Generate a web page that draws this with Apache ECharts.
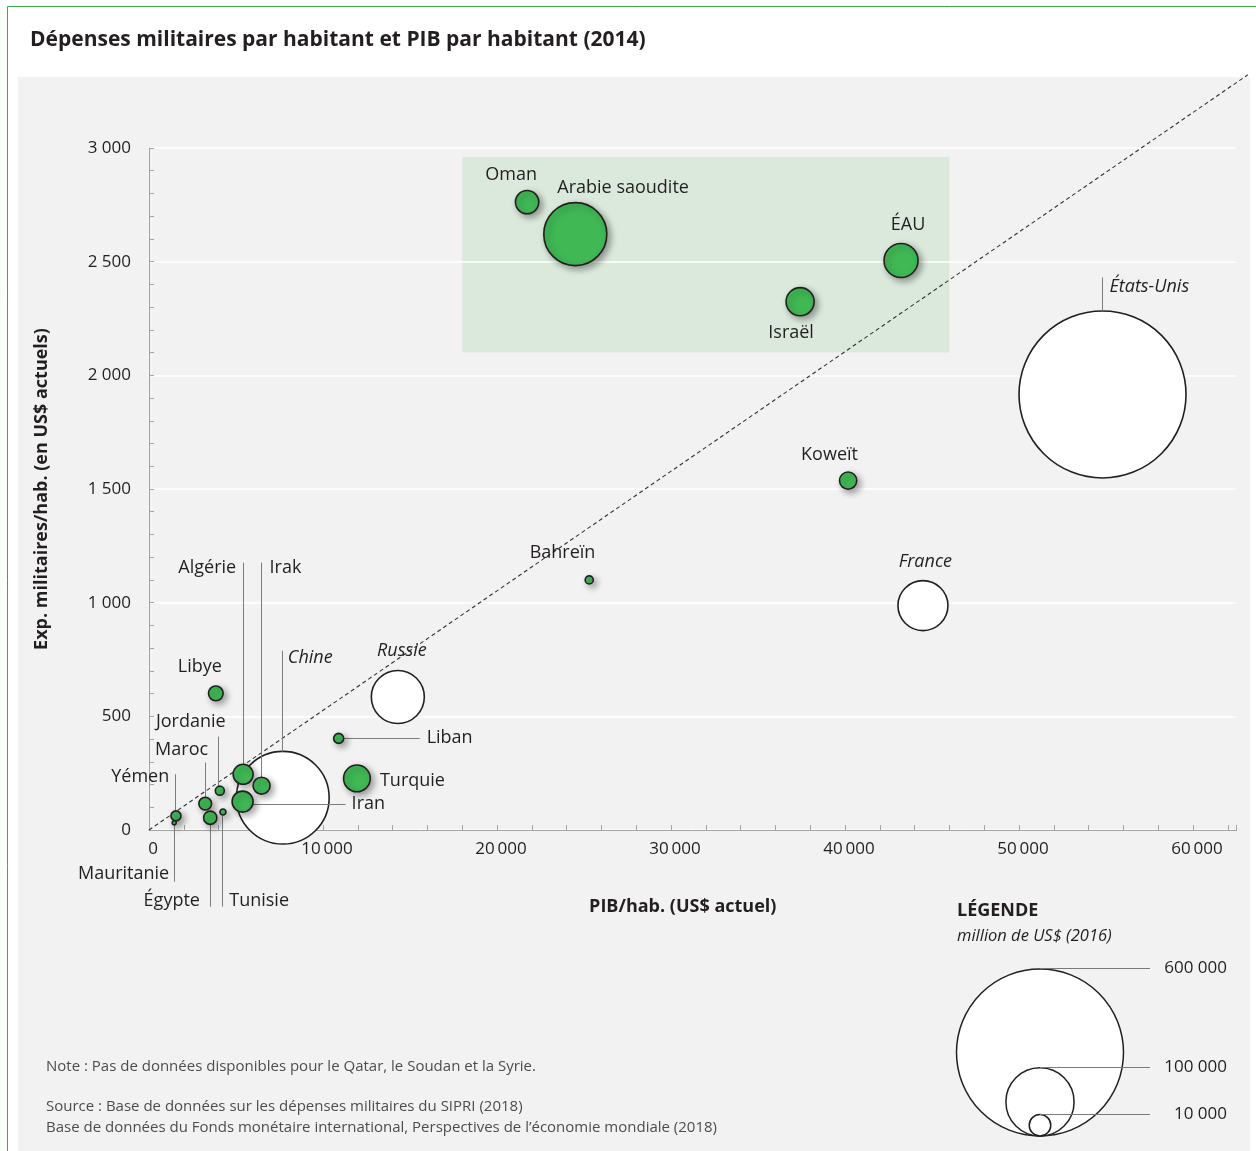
<!DOCTYPE html>
<html><head><meta charset="utf-8">
<script src="https://cdn.jsdelivr.net/npm/echarts@6/dist/echarts.min.js"></script>
<style>html,body{margin:0;padding:0;background:#fff}#c{width:1256px;height:1151px}</style>
</head><body><div id="c"></div>
<script>
// ---- DATA ----
const greenNames  = ['Oman','Arabie saoudite','ÉAU','Israël','Koweït','Bahreïn','Liban','Turquie','Libye','Algérie','Irak','Iran','Jordanie','Maroc','Égypte','Tunisie','Yémen','Mauritanie'];
const greenGdp    = [21730, 24500, 43220, 37420, 40180, 25300, 10900, 11950, 3840, 5410, 6470, 5380, 4070, 3230, 3520, 4250, 1550, 1450];
const greenMil    = [2762, 2621, 2505, 2324, 1537, 1100, 403, 227, 601, 245, 195, 125, 173, 116, 54, 79, 62, 32];
const greenBudget = [11700, 85400, 24900, 16900, 6400, 1400, 2150, 15300, 4650, 8600, 6200, 9500, 1740, 3470, 3800, 775, 2150, 350];

const whiteNames  = ['États-Unis','France','Russie','Chine'];
const whiteGdp    = [54800, 44480, 14300, 7690];
const whiteMil    = [1916, 987, 585, 142];
const whiteBudget = [600000, 53800, 60400, 184900];

const xTicks = [0, 10000, 20000, 30000, 40000, 50000, 60000];
const yTicks = [0, 500, 1000, 1500, 2000, 2500, 3000];
const legendValues = [600000, 100000, 10000];
const refLine = [0, 0, 63150, 3322];          // x0, y0, x1, y1
const gulfBox = [18000, 2100, 46000, 2960];   // xMin, yMin, xMax, yMax

// ---- STYLE / LAYOUT ----
const FONT = '"Open Sans", "Noto Sans", sans-serif';
const INK = '#231f20';
const sizeScale = v => 0.2156 * Math.sqrt(v);
const fmtThin = v => String(v).replace(/\B(?=(\d{3})+(?!\d))/g, '\u2009');
const fmtSpace = v => String(v).replace(/\B(?=(\d{3})+(?!\d))/g, ' ');
const crisp = v => Math.round(v - 0.5) + 0.5;

const labelLayout = {
  'Oman': {dx:-16, dy:-27, align:'center'},
  'Arabie saoudite': {dx:-18, dy:-46, align:'left'},
  'ÉAU': {dx:7, dy:-36, align:'center'},
  'Israël': {dx:-9, dy:31, align:'center'},
  'Koweït': {dx:-18.6, dy:-25.7, align:'center'},
  'Bahreïn': {dx:-26.7, dy:-26.7, align:'center'},
  'Liban': {dx:88, dy:-1, align:'left', line:[5,0,81,0]},
  'Turquie': {dx:23, dy:2, align:'left'},
  'Iran': {dx:109, dy:2, align:'left', line:[10,3,103,3]},
  'Libye': {dx:-16, dy:-26, align:'center'},
  'Algérie': {dx:-7, dy:-206, align:'right', line:[0,-211.6,0,-10]},
  'Irak': {dx:8, dy:-218, align:'left', line:[0,-223,0,-8.5]},
  'Jordanie': {dx:-29, dy:-69, align:'center', line:[-1,-54,-1,-4.5]},
  'Maroc': {dx:-23.6, dy:-53.7, align:'center', line:[0,-41,0,-6.3]},
  'Yémen': {dx:-6.7, dy:-38.7, align:'right', line:[0,-41.7,0,-5]},
  'Mauritanie': {dx:-5, dy:51.6, align:'right', line:[0.7,2,0.7,59]},
  'Égypte': {dx:-10.3, dy:83.3, align:'right', line:[0,6.7,0,89]},
  'Tunisie': {dx:6.3, dy:89, align:'left', line:[0,3,0,94.7]},
  'États-Unis': {dx:7, dy:-108, align:'left', line:[0,-83.5,0,-117]},
  'France': {dx:2.4, dy:-44, align:'center'},
  'Russie': {dx:4, dy:-46, align:'center'},
  'Chine': {dx:5, dy:-140, align:'left', line:[0,-46,0,-147]}
};

const greenData = greenNames.map((n, i) => ({name:n, value:[greenGdp[i], greenMil[i], greenBudget[i]]}));
const whiteData = whiteNames.map((n, i) => ({name:n, value:[whiteGdp[i], whiteMil[i], whiteBudget[i]]}));
const allNames = greenNames.concat(whiteNames);
const allItalic = greenNames.map(() => false).concat(whiteNames.map(() => true));
const labelData = greenNames.map((n, i) => [greenGdp[i], greenMil[i], i])
  .concat(whiteNames.map((n, i) => [whiteGdp[i], whiteMil[i], greenNames.length + i]));

// ---- GRAPHIC (frame, title, notes, legend) ----
const graphic = [
  {type:'rect', z:-20, shape:{x:7.5, y:6.5, width:1270, height:1170}, style:{fill:'#fff', stroke:'#3aaa4a', lineWidth:1}},
  {type:'rect', z:-19, shape:{x:18, y:77, width:1232, height:1090}, style:{fill:'#f2f2f2'}},
  {type:'text', x:30, y:40, style:{text:'Dépenses militaires par habitant et PIB par habitant (2014)', fontFamily:FONT, fontWeight:'bold', fontSize:21, fill:INK, textVerticalAlign:'middle'}},
  {type:'text', x:46, y:1067, style:{text:'Note : Pas de données disponibles pour le Qatar, le Soudan et la Syrie.', fontFamily:FONT, fontSize:15, fill:'#4d4d4d', textVerticalAlign:'middle'}},
  {type:'text', x:46, y:1107, style:{text:'Source : Base de données sur les dépenses militaires du SIPRI (2018)', fontFamily:FONT, fontSize:15, fill:'#4d4d4d', textVerticalAlign:'middle'}},
  {type:'text', x:46, y:1128, style:{text:'Base de données du Fonds monétaire international, Perspectives de l\u2019économie mondiale (2018)', fontFamily:FONT, fontSize:15, fill:'#4d4d4d', textVerticalAlign:'middle'}},
  {type:'text', x:957, y:911, style:{text:'LÉGENDE', fontFamily:FONT, fontWeight:'bold', fontSize:18, fill:INK, textVerticalAlign:'middle'}},
  {type:'text', x:957, y:936, style:{text:'million de US$ (2016)', fontFamily:FONT, fontStyle:'italic', fontSize:16.5, fill:INK, textVerticalAlign:'middle'}}
];
const legCx = 1040, legBottom = 1136;
legendValues.forEach(v => {
  const r = sizeScale(v) / 2;
  graphic.push({type:'circle', shape:{cx:legCx, cy:legBottom - r, r:r}, style:{fill:'#fff', stroke:INK, lineWidth:1.5}});
});
legendValues.forEach(v => {
  const top = crisp(legBottom - sizeScale(v));
  graphic.push({type:'line', shape:{x1:legCx, y1:top, x2:1150, y2:top}, style:{stroke:'#7a7a7a', lineWidth:1}});
  graphic.push({type:'text', x:1227, y:top, style:{text:fmtSpace(v), fontFamily:FONT, fontSize:17, fill:INK, textAlign:'right', textVerticalAlign:'middle'}});
});

// ---- CHART ----
const chart = echarts.init(document.getElementById('c'), null, {renderer:'canvas'});
const axisGrey = '#a3a3a3';
chart.setOption({
  animation:false,
  backgroundColor:'#ffffff',
  graphic: graphic,
  grid:{left:149, top:148, width:1087.5, height:682, containLabel:false},
  xAxis:{
    type:'value', min:xTicks[0], max:62500, interval:2000,
    axisLine:{show:true, lineStyle:{color:axisGrey, width:1}},
    axisTick:{show:true, inside:true, length:5, lineStyle:{color:axisGrey}},
    axisLabel:{formatter: v => xTicks.indexOf(v) >= 0 ? fmtThin(v) : '', color:INK, fontFamily:FONT, fontSize:17, margin:11, padding:[0,0,0,8]},
    splitLine:{show:false},
    name:'PIB/hab. (US$ actuel)', nameLocation:'middle', nameGap:68,
    nameTextStyle:{fontFamily:FONT, fontWeight:'bold', fontSize:18, color:INK, padding:[0,20,0,0]}
  },
  yAxis:{
    type:'value', min:yTicks[0], max:yTicks[yTicks.length-1], interval:500,
    axisLine:{show:true, lineStyle:{color:axisGrey, width:1}},
    axisTick:{show:true, inside:true, length:5, lineStyle:{color:axisGrey}},
    minorTick:{show:true, splitNumber:5, length:5, lineStyle:{color:axisGrey}},
    axisLabel:{formatter: v => fmtSpace(v), color:INK, fontFamily:FONT, fontSize:17, margin:18},
    splitLine:{show:true, lineStyle:{color:'#ffffff', width:1.5}},
    name:'Exp. militaires/hab. (en US$ actuels)', nameLocation:'middle', nameGap:98, nameRotate:90,
    nameTextStyle:{fontFamily:FONT, fontWeight:'bold', fontSize:18, color:INK}
  },
  series:[
    { type:'custom', z:-1, silent:true, clip:false,
      data:[gulfBox],
      renderItem:(params, api) => {
        const a = api.coord([api.value(0), api.value(3)]);
        const b = api.coord([api.value(2), api.value(1)]);
        return {type:'rect', shape:{x:a[0], y:a[1], width:b[0]-a[0], height:b[1]-a[1]}, style:{fill:'#dbe9dc'}};
      }
    },
    { type:'custom', z:1, silent:true, clip:false,
      data:[refLine],
      renderItem:(params, api) => {
        const a = api.coord([api.value(0), api.value(1)]);
        const b = api.coord([api.value(2), api.value(3)]);
        return {type:'line', shape:{x1:a[0], y1:a[1], x2:b[0], y2:b[1]}, style:{stroke:'#333333', lineWidth:1.1, lineDash:[4,3]}};
      }
    },
    { type:'scatter', zlevel:0, z:2, data:whiteData, clip:false, silent:true,
      symbolSize: v => sizeScale(v[2]),
      itemStyle:{color:'#ffffff', borderColor:INK, borderWidth:1.6, opacity:1} },
    { type:'custom', zlevel:1, z:3, data:labelData, clip:false, silent:true,
      renderItem:(params, api) => {
        const idx = api.value(2);
        const name = allNames[idx];
        const L = labelLayout[name];
        const p = api.coord([api.value(0), api.value(1)]);
        const children = [];
        if (L.line) {
          const x1 = p[0]+L.line[0], y1 = p[1]+L.line[1], x2 = p[0]+L.line[2], y2 = p[1]+L.line[3];
          const vertical = Math.abs(x1 - x2) < 0.01;
          children.push({type:'line', z2:10,
            shape: vertical ? {x1:crisp(x1), y1:y1, x2:crisp(x2), y2:y2} : {x1:x1, y1:crisp(y1), x2:x2, y2:crisp(y2)},
            style:{stroke:'#7d7d7d', lineWidth:1}});
        }
        children.push({type:'text', x:p[0]+L.dx, y:p[1]+L.dy, style:{text:name, textAlign:L.align, textVerticalAlign:'middle', fontFamily:FONT, fontSize:18, fontStyle: allItalic[idx] ? 'italic' : 'normal', fill:INK}});
        return {type:'group', children:children};
      }
    },
    { type:'scatter', zlevel:2, z:4, data:greenData, clip:false, silent:true,
      symbolSize: v => sizeScale(v[2]),
      itemStyle:{color:'#40b955', borderColor:INK, borderWidth:1.6, opacity:1,
        shadowBlur:7, shadowColor:'rgba(0,0,0,0.38)', shadowOffsetX:3, shadowOffsetY:3} }
  ]
});
</script>
</body></html>
